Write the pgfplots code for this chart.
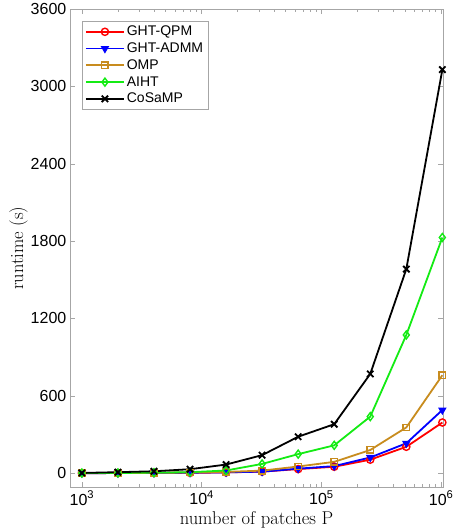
\documentclass[border=0pt]{standalone}
\usepackage{fontspec}
\setsansfont{Liberation Sans}
\usepackage{pgfplots}
\pgfplotsset{compat=1.18}
\definecolor{ompc}{RGB}{200,140,30}
\definecolor{aihtc}{RGB}{20,235,20}
\begin{document}
\begin{tikzpicture}[x=1pt,y=1pt]
\begin{axis}[
  scale only axis,
  width=373pt, height=478pt,
  xmode=log,
  xmin=794, xmax=1.04e6,
  ymin=-110, ymax=3600,
  xtick={1000,10000,100000,1000000},
  xticklabels={10\textsuperscript{3},10\textsuperscript{4},10\textsuperscript{5},10\textsuperscript{6}},
  ytick={0,600,1200,1800,2400,3000,3600},
  /pgf/number format/assume math mode=true,
  /pgf/number format/1000 sep={},
  yticklabel style={font=\sffamily\fontsize{16}{18}\selectfont, black},
  xticklabel style={font=\sffamily\fontsize{16}{18}\selectfont, black},
  xlabel={\fontsize{18.5}{20}\selectfont number of patches P},
  ylabel={\fontsize{18.5}{20}\selectfont runtime (s)},
  xlabel style={yshift=1pt},
  ylabel style={yshift=-4pt},
  axis line style={gray!70},
  every tick/.style={gray!70},
  major tick length=5pt, minor tick length=3pt,
  tick align=inside,
  legend cell align=left,
  legend style={at={(0.032,0.975)}, anchor=north west, draw=gray!70,
    font=\sffamily\fontsize{14}{16}\selectfont, row sep=1.5pt,
    inner sep=3pt},
  legend image code/.code={\draw[mark repeat=2,mark phase=2] plot coordinates {(0pt,0pt)(19pt,0pt)(38pt,0pt)};},
]
\addplot[red, line width=1.8pt, mark=o, mark size=3.6pt, mark options={line width=1.4pt}] coordinates {
(1000,0.5)(2000,1)(4000,2)(8000,3)(16000,6)(32000,12)(64000,32)(128000,50)(256000,105)(512000,205)(1024000,393)};
\addlegendentry{GHT-QPM}
\addplot[blue, line width=1.8pt, mark=triangle*, mark size=4pt, mark options={rotate=180, line width=1pt}] coordinates {
(1000,0.5)(2000,1)(4000,2)(8000,4)(16000,7)(32000,12)(64000,35)(128000,55)(256000,122)(512000,232)(1024000,490)};
\addlegendentry{GHT-ADMM}
\addplot[ompc, line width=1.8pt, mark=square, mark size=3.2pt, mark options={line width=1.4pt}] coordinates {
(1000,1)(2000,2)(4000,3)(8000,6)(16000,10)(32000,20)(64000,52)(128000,88)(256000,180)(512000,355)(1024000,760)};
\addlegendentry{OMP}
\addplot[aihtc, line width=1.8pt, mark=diamond, mark size=4pt, mark options={line width=1.4pt}] coordinates {
(1000,1)(2000,2)(4000,4)(8000,8)(16000,21)(32000,72)(64000,148)(128000,216)(256000,439)(512000,1072)(1024000,1828)};
\addlegendentry{AIHT}
\addplot[black, line width=1.8pt, mark=x, mark size=4.5pt, mark options={line width=1.8pt}] coordinates {
(1000,2)(2000,8)(4000,15)(8000,31)(16000,67)(32000,140)(64000,283)(128000,380)(256000,770)(512000,1583)(1024000,3130)};
\addlegendentry{CoSaMP}
\end{axis}
\path ([xshift=-6pt]current bounding box.west);
\end{tikzpicture}
\end{document}
